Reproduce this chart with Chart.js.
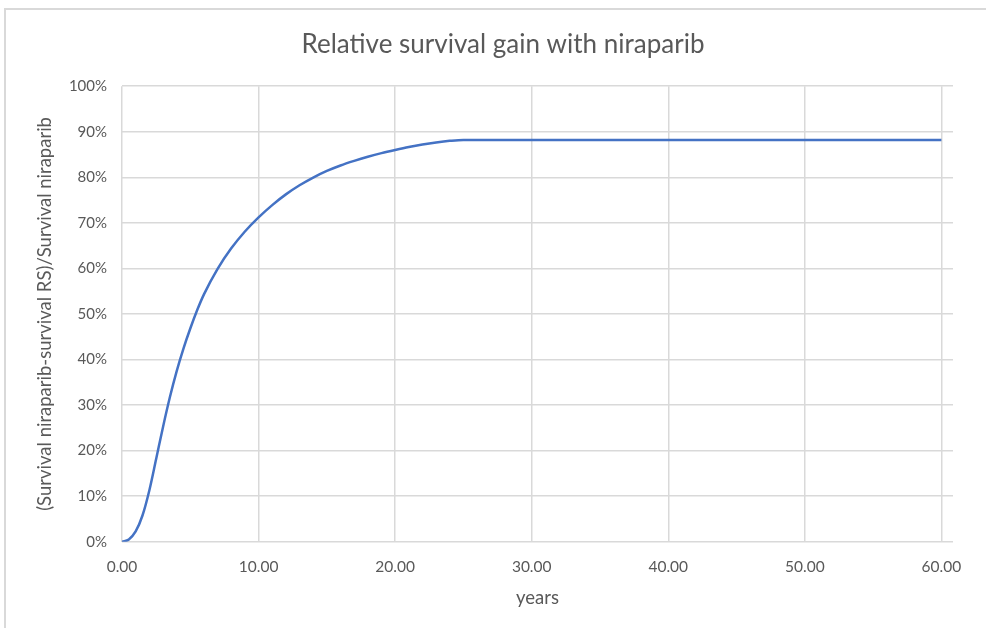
<!DOCTYPE html>
<html>
<head>
<meta charset="utf-8">
<script src="https://cdn.jsdelivr.net/npm/chart.js@4.4.1/dist/chart.umd.min.js"></script>
<style>
  html, body { margin: 0; padding: 0; background: #fff; }
  #wrap { position: relative; width: 986px; height: 628px; }
  #frame { position: absolute; left: 4px; top: 8px; right: 0; bottom: 0;
           border-top: 2px solid #d9d9d9; border-left: 2px solid #d9d9d9; pointer-events: none; }
</style>
</head>
<body>
<div id="wrap">
  <canvas id="chartGain" width="986" height="628"></canvas>
  <div id="frame"></div>
</div>
<script>
// Ganancia relativa de supervivencia con niraparib
var years = [0, 0.5, 1, 1.5, 2, 2.5, 3, 3.5, 4, 4.5, 5, 5.5, 6, 7, 8, 9, 10,
             11, 12, 13, 14, 15, 16, 17, 18, 19, 20, 21, 22, 23, 24, 25,
             26, 27, 28, 29, 30, 32, 34, 36, 38, 40, 42, 44, 46, 48, 50,
             52, 54, 56, 58, 60];
var gainPct = [0, 0.5, 2.25, 5.75, 11.25, 18.15, 25.15, 31.65, 37.4, 42.4, 46.8, 50.8, 54.3, 59.9, 64.4, 68.1, 71.2,
               73.9, 76.25, 78.25, 79.95, 81.4, 82.6, 83.6, 84.5, 85.3, 86.0, 86.65, 87.2, 87.65, 88.0, 88.2,
               88.2, 88.2, 88.2, 88.2, 88.2, 88.2, 88.2, 88.2, 88.2, 88.2, 88.2, 88.2, 88.2, 88.2, 88.2,
               88.2, 88.2, 88.2, 88.2, 88.2];
var xTicks = [0, 10, 20, 30, 40, 50, 60];
var yTicks = [0, 10, 20, 30, 40, 50, 60, 70, 80, 90, 100];

var fontFam = 'Lato, "Open Sans", sans-serif';
var gris = '#595959';
var grid = '#d9d9d9';

var puntos = years.map(function (x, i) { return { x: x, y: gainPct[i] }; });

var chartGain = new Chart(document.getElementById('chartGain'), {
    type: 'line',
    data: {
        datasets: [{
            label: 'Relative survival gain',
            data: puntos,
            borderColor: 'rgb(68, 114, 196)',
            borderWidth: 2.5,
            pointRadius: 0,
            fill: false,
            cubicInterpolationMode: 'monotone'
        }]
    },
    options: {
        responsive: false,
        animation: false,
        layout: { padding: { left: 20, right: 0, top: 0, bottom: 0 } },
        plugins: {
            legend: { display: false },
            tooltip: { enabled: false },
            title: {
                display: true,
                text: 'Relative survival gain with niraparib',
                color: gris,
                font: { family: fontFam, size: 26, weight: 'normal' },
                padding: { top: 29, bottom: 26 }
            }
        },
        scales: {
            x: {
                type: 'linear',
                min: 0,
                max: 60.85,
                afterBuildTicks: function (scale) {
                    scale.ticks = xTicks.map(function (v) { return { value: v }; });
                },
                afterFit: function (scale) { scale.height = 86.3; },
                grid: { color: grid, lineWidth: 1.5, drawTicks: false },
                border: { display: false },
                ticks: {
                    color: gris,
                    padding: 16,
                    font: { family: fontFam, size: 15.5 },
                    maxRotation: 0,
                    callback: function (v) { return v.toFixed(2); }
                },
                title: {
                    display: true,
                    text: 'years',
                    color: gris,
                    font: { family: fontFam, size: 18.5 },
                    padding: { top: 0, bottom: 19 }
                }
            },
            y: {
                min: 0,
                max: 100,
                afterBuildTicks: function (scale) {
                    scale.ticks = yTicks.map(function (v) { return { value: v }; });
                },
                afterFit: function (scale) { scale.width = 102; },
                grid: { color: grid, lineWidth: 1.5, drawTicks: false },
                border: { display: false },
                ticks: {
                    color: gris,
                    padding: 15,
                    font: { family: fontFam, size: 15 },
                    callback: function (v) { return v + '%'; }
                },
                title: {
                    display: true,
                    text: '(Survival niraparib-survival RS)/Survival niraparib',
                    color: gris,
                    font: { family: fontFam, size: 18.5 },
                    padding: { top: 14, bottom: 0 }
                }
            },
            yDer: {
                position: 'right',
                display: true,
                afterFit: function (scale) { scale.width = 33; },
                grid: { display: false },
                border: { display: false },
                ticks: { display: false }
            }
        }
    }
});
</script>
</body>
</html>
